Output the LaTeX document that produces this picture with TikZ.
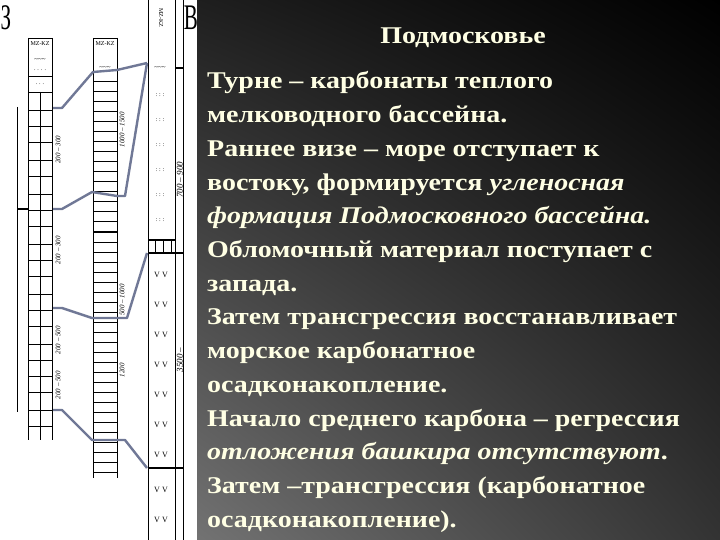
\documentclass[tikz,border=0pt]{standalone}
\usepackage{fontspec}
\setmainfont{Liberation Serif}
\usetikzlibrary{shadings}
\newcommand{\stretchtxt}[1]{\scalebox{1.165}[1]{#1}}
\definecolor{cream}{RGB}{255,255,228}
\definecolor{slate}{RGB}{112,120,150}
\begin{document}
\begin{tikzpicture}[x=1pt,y=-1pt,
  txt/.style={text=cream,font=\fontsize{24}{26}\selectfont\bfseries,anchor=base west,inner sep=0},
  corr/.style={draw=slate,line width=2.4pt,line join=round},
  col/.style={draw=black,line width=0.8pt},
  num/.style={font=\fontsize{7}{8}\selectfont\itshape,rotate=90,inner sep=0}]
\useasboundingbox (0,0) rectangle (720,540);
\fill[white] (0,0) rectangle (197,540);
\shade[upper left=black!88,upper right=black,lower left=black!55,lower right=black!80] (197,0) rectangle (720,540);
% letters
\node[font=\fontsize{30}{30}\selectfont] (z) at (6,18) {\scalebox{0.7}[1.2]{З}};
\node[font=\fontsize{30}{30}\selectfont] (v) at (191,18) {\scalebox{0.7}[1.2]{В}};
% column 1
\draw[col] (28,38) -- (28,440) (52,38) -- (52,440) (28,38) -- (52,38) (40,92)--(40,440);
\node[font=\fontsize{6}{6}\selectfont] (l1) at (40,44) {MZ-KZ};
\node[font=\fontsize{7}{7}\selectfont] (w1) at (40,60) {\textasciitilde\textasciitilde\textasciitilde};
\node[font=\fontsize{6}{6}\selectfont] (d1) at (40,70) {. . . .};
\node[font=\fontsize{6}{6}\selectfont] (d2) at (40,84) {. . .};
\foreach \y in {76,92,110,126,142,160,176,194,210,226,244,260,276,294,310,326,344,360,376,392,410,426}
  \draw[col] (28,\y) -- (52,\y);
\draw[line width=0.6pt] (17,107) -- (17,412);
\draw[line width=1.2pt] (17,209) -- (28,209);
\node[num] (n1) at (58,150) {200 -- 300};
\node[num] (n2) at (58,250) {200 -- 300};
\node[num] (n3) at (58,340) {200 -- 500};
\node[num] (n3b) at (58,385) {200 -- 500};
% column 2
\draw[col] (93,38) -- (93,478) (117,38) -- (117,478) (93,38) -- (117,38);
\node[font=\fontsize{6}{6}\selectfont] (l2) at (105,44) {MZ-KZ};
\node[font=\fontsize{7}{7}\selectfont] (w2) at (105,68) {\textasciitilde\textasciitilde\textasciitilde};
\foreach \y in {82,92,...,472}
  \draw[line width=1pt] (93,\y) -- (117,\y);
\node[num] (n4) at (122,130) {1000 -- 1500};
\node[num] (n5) at (122,300) {500 -- 1000};
\node[num] (n6) at (122,370) {1200};
% column 3
\draw[col] (148,0) -- (148,540) (175,0) -- (175,540) (183,0) -- (183,540);
\node[font=\fontsize{6}{6}\selectfont,rotate=-90] (l3) at (161,18) {MZ-KZ};
\node[font=\fontsize{7}{7}\selectfont] (w3) at (160,68) {\textasciitilde\textasciitilde\textasciitilde};
\foreach \y in {95,120,145,170,195,220}
  \node[font=\fontsize{6}{6}\selectfont] at (160,\y) {: : :};
\draw[line width=1.5pt] (148,240) -- (175,240) (148,253) -- (183,253) (175,68)--(183,68) (148,468)--(183,468);
\foreach \x in {155,163,171} \draw (\x,240)--(\x,253);
\foreach \y in {275,305,335,365,395,425,455,490,520}
  \node[font=\fontsize{8}{8}\selectfont] at (161,\y) {V V};
\node[num,font=\fontsize{9}{9}\selectfont\itshape] (n7) at (180,180) {700 -- 900};
\node[num,font=\fontsize{9}{9}\selectfont\itshape] (n8) at (180,360) {3500 -- };
% correlation lines
\draw[corr] (53,108)--(62,108)--(93,72)--(117,70)--(147,63);
\draw[corr] (53,209)--(62,209)--(92,192)--(117,196)--(125,196)--(147,63);
\draw[corr] (53,308)--(62,308)--(92,318)--(117,318)--(127,318)--(147,253);
\draw[corr] (53,410)--(62,410)--(92,440)--(117,440)--(125,440)--(147,468);
% text
\node[txt,anchor=base] (title) at (463,44) {\stretchtxt{Подмосковье}};
\node[txt] (t1) at (207,89) {\stretchtxt{Турне – карбонаты теплого}};
\node[txt] (t2) at (207,122.7) {\stretchtxt{мелководного бассейна.}};
\node[txt] (t3) at (207,156.4) {\stretchtxt{Раннее визе – море отступает к}};
\node[txt] (t4) at (207,190.1) {\stretchtxt{востоку, формируется \textit{угленосная}}};
\node[txt] (t5) at (207,223.8) {\stretchtxt{\textit{формация Подмосковного бассейна.}}};
\node[txt] (t6) at (207,257.5) {\stretchtxt{Обломочный материал поступает с}};
\node[txt] (t7) at (207,291.2) {\stretchtxt{запада.}};
\node[txt] (t8) at (207,324.9) {\stretchtxt{Затем трансгрессия восстанавливает}};
\node[txt] (t9) at (207,358.6) {\stretchtxt{морское карбонатное}};
\node[txt] (t10) at (207,392.3) {\stretchtxt{осадконакопление.}};
\node[txt] (t11) at (207,426) {\stretchtxt{Начало среднего карбона – регрессия}};
\node[txt] (t12) at (207,459.7) {\stretchtxt{\textit{отложения башкира отсутствуют}.}};
\node[txt] (t13) at (207,493.4) {\stretchtxt{Затем –трансгрессия (карбонатное}};
\node[txt] (t14) at (207,527.1) {\stretchtxt{осадконакопление).}};
\end{tikzpicture}
\end{document}
